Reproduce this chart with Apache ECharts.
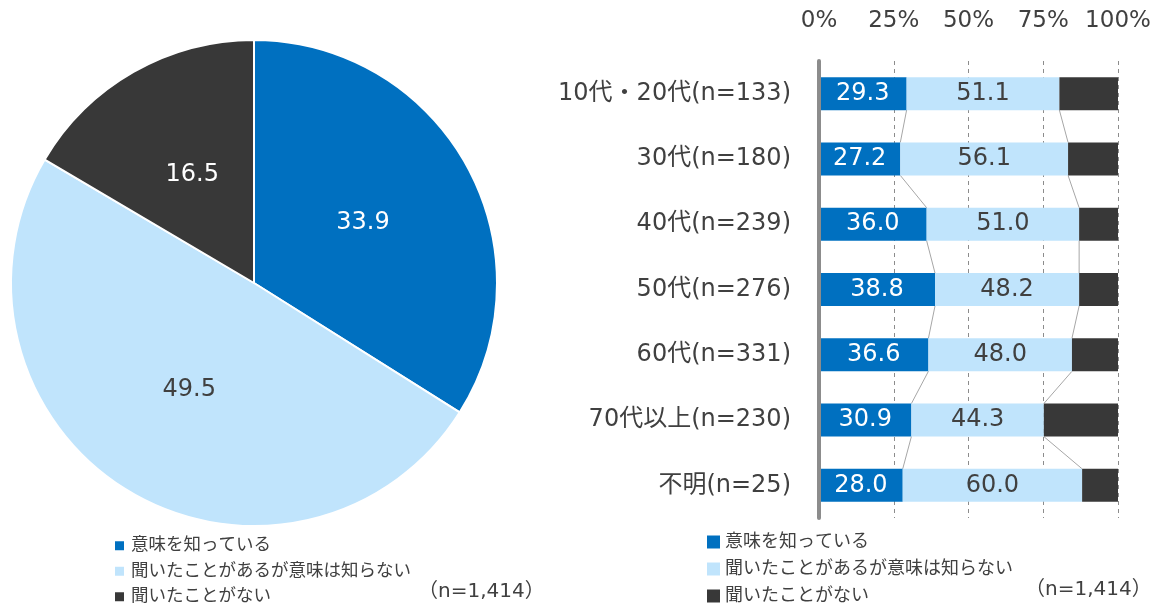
<!DOCTYPE html>
<html>
<head>
<meta charset="utf-8">
<script src="https://cdn.jsdelivr.net/npm/echarts@6/dist/echarts.min.js"></script>
<style>
  html, body { margin: 0; padding: 0; background: #ffffff; }
  #chart { width: 1162px; height: 605px; }
</style>
</head>
<body>
<div id="chart"></div>
<script>
// Answer labels (shared by the pie and the stacked bars)
const answers = ['意味を知っている', '聞いたことがあるが意味は知らない', '聞いたことがない'];
// Overall shares (%)
const overall = [33.9, 49.5, 16.5];

// Age groups, top to bottom
const categories = ['10代・20代(n=133)', '30代(n=180)', '40代(n=239)', '50代(n=276)', '60代(n=331)', '70代以上(n=230)', '不明(n=25)'];
const know = [29.3, 27.2, 36.0, 38.8, 36.6, 30.9, 28.0];
const heardOnly = [51.1, 56.1, 51.0, 48.2, 48.0, 44.3, 60.0];
const never = [19.6, 16.7, 13.0, 13.0, 15.4, 24.8, 12.0];

// Percentage axis ticks
const tickValues = [0, 25, 50, 75, 100];
const tickLabels = ['0%', '25%', '50%', '75%', '100%'];

const colors = ['#0070C0', '#C0E4FC', '#383838'];
const textDark = '#404040';
const font = "'DejaVu Sans', 'Noto Sans CJK JP', sans-serif";

// Boundaries between stacked segments, joined from one bar to the next
const connectors = [];
for (let i = 0; i < categories.length - 1; i++) {
  connectors.push([
    i,
    know[i], know[i + 1],
    know[i] + heardOnly[i], know[i + 1] + heardOnly[i + 1]
  ]);
}

const BAR_W = 33;

function renderConnector(params, api) {
  const idx = api.value(0);
  const half = BAR_W / 2;
  const lines = [];
  [[1, 2], [3, 4]].forEach(function (pair) {
    const a = api.coord([api.value(pair[0]), idx]);
    const b = api.coord([api.value(pair[1]), idx + 1]);
    lines.push({
      type: 'line',
      shape: { x1: a[0], y1: a[1] + half, x2: b[0], y2: b[1] - half },
      style: { stroke: '#A6A6A6', lineWidth: 1 },
      silent: true
    });
  });
  return { type: 'group', children: lines };
}

function fmt1(p) { return Number(p.value).toFixed(1); }

const chart = echarts.init(document.getElementById('chart'), null, { renderer: 'canvas' });

chart.setOption({
  animation: false,
  textStyle: { fontFamily: font },
  legend: [
    {
      data: answers,
      orient: 'vertical',
      left: 115,
      top: 537,
      height: 80,
      padding: 0,
      icon: 'rect',
      itemWidth: 9,
      itemHeight: 9,
      itemGap: 8,
      selectedMode: false,
      textStyle: { fontSize: 17.5, color: textDark, fontFamily: font, padding: [0, 0, 0, 2] }
    },
    {
      data: answers,
      orient: 'vertical',
      left: 707,
      top: 533,
      height: 80,
      padding: 0,
      icon: 'rect',
      itemWidth: 13,
      itemHeight: 13,
      itemGap: 9,
      selectedMode: false,
      textStyle: { fontSize: 18, color: textDark, fontFamily: font }
    }
  ],
  grid: { left: 819, right: 44, top: 61, bottom: 87 },
  xAxis: {
    type: 'value',
    position: 'top',
    min: 0,
    max: 100,
    interval: 25,
    axisLine: { show: false },
    axisTick: { show: false },
    axisLabel: {
      margin: 28,
      fontSize: 23,
      color: textDark,
      formatter: function (v) { return tickLabels[tickValues.indexOf(v)]; }
    },
    splitLine: { show: true, lineStyle: { color: '#8C8C8C', type: [4, 4], width: 1 } }
  },
  yAxis: {
    type: 'category',
    data: categories,
    inverse: true,
    axisTick: { show: false },
    axisLine: { show: true, lineStyle: { color: '#8C8C8C', width: 4 } },
    axisLabel: { fontSize: 24, color: textDark, margin: 28 },
    z: 5
  },
  graphic: [
    { type: 'text', left: 418, top: 582, style: { text: '（n=1,414）', fontSize: 20, fill: textDark, fontFamily: font } },
    { type: 'text', left: 1025, top: 580, style: { text: '（n=1,414）', fontSize: 20, fill: textDark, fontFamily: font } }
  ],
  series: [
    {
      type: 'pie',
      center: [254, 283],
      radius: 243,
      startAngle: 90,
      clockwise: true,
      avoidLabelOverlap: false,
      itemStyle: { borderColor: '#ffffff', borderWidth: 2 },
      label: {
        show: true,
        position: 'inside',
        fontSize: 24,
        formatter: fmt1
      },
      labelLine: { show: false },
      emphasis: { disabled: true },
      data: answers.map(function (name, i) {
        return {
          name: name,
          value: overall[i],
          itemStyle: { color: colors[i] },
          label: { color: i === 1 ? textDark : '#ffffff' }
        };
      })
    },
    {
      name: answers[0],
      type: 'bar',
      stack: 'total',
      barWidth: BAR_W,
      itemStyle: { color: colors[0] },
      label: { show: true, position: 'inside', color: '#ffffff', fontSize: 24, formatter: fmt1 },
      data: know
    },
    {
      name: answers[1],
      type: 'bar',
      stack: 'total',
      barWidth: BAR_W,
      itemStyle: { color: colors[1] },
      label: { show: true, position: 'inside', color: textDark, fontSize: 24, formatter: fmt1 },
      data: heardOnly
    },
    {
      name: answers[2],
      type: 'bar',
      stack: 'total',
      barWidth: BAR_W,
      itemStyle: { color: colors[2] },
      data: never
    },
    {
      type: 'custom',
      renderItem: renderConnector,
      encode: { x: [1, 2, 3, 4], y: 0 },
      silent: true,
      data: connectors
    }
  ]
});
</script>
</body>
</html>
